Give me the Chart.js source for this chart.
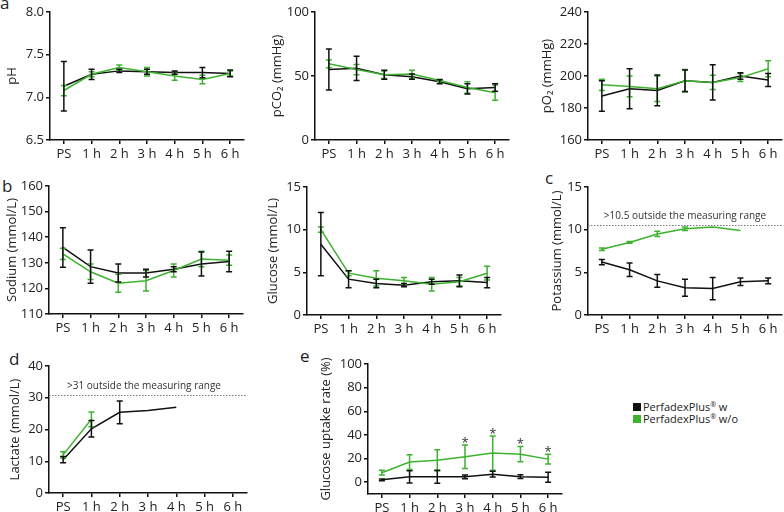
<!DOCTYPE html>
<html>
<head>
<meta charset="utf-8">
<script src="https://cdn.jsdelivr.net/npm/chart.js@4.4.0/dist/chart.umd.min.js"></script>
<style>
body{margin:0;background:#fff;width:784px;height:512px;position:relative;overflow:hidden;font-family:"Open Sans",sans-serif;color:#222}
canvas{position:absolute}
.lbl{position:absolute;font-size:17px;line-height:17px}
#legend{position:absolute;left:633px;top:401px;font-size:11px;line-height:12px;white-space:nowrap}
#legend span{display:inline-block;width:8px;height:8px;margin-right:2px}
#legend sup{font-size:7px;vertical-align:4px;line-height:0}
</style>
</head>
<body>
<div class="lbl" style="left:0;top:-6px">a</div>
<div class="lbl" style="left:2px;top:177px">b</div>
<div class="lbl" style="left:545px;top:169px">c</div>
<div class="lbl" style="left:9px;top:350px">d</div>
<div class="lbl" style="left:300px;top:347px">e</div>
<div id="legend">
  <div><span style="background:#111"></span>PerfadexPlus<sup>®</sup> w</div>
  <div><span style="background:#3db22f"></span>PerfadexPlus<sup>®</sup> w/o</div>
</div>

<canvas id="ph"></canvas>
<canvas id="pco2"></canvas>
<canvas id="po2"></canvas>
<canvas id="sodium"></canvas>
<canvas id="glucose"></canvas>
<canvas id="potassium"></canvas>
<canvas id="lactate"></canvas>
<canvas id="uptake"></canvas>

<script>
// categories
const hours = ['PS', '1 h', '2 h', '3 h', '4 h', '5 h', '6 h'];

// pH
const phW = [7.13, 7.27, 7.31, 7.30, 7.29, 7.29, 7.28];
const phWSd = [0.29, 0.06, 0.02, 0.03, 0.02, 0.06, 0.04];
const phWo = [7.08, 7.27, 7.35, 7.30, 7.25, 7.21, 7.28];
const phWoSd = [0.06, 0.03, 0.03, 0.05, 0.05, 0.05, 0.03];

// pCO2
const pco2W = [55, 56, 51, 49.5, 45.5, 40, 41];
const pco2WSd = [16, 9.5, 3.5, 2, 1.5, 4, 3];
const pco2Wo = [59.5, 55, 51, 51.5, 46.5, 41, 37];
const pco2WoSd = [3, 4, 3, 3, 1, 4.5, 6];

// pO2
const po2W = [187.5, 192, 191, 197, 196, 200, 197.5];
const po2WSd = [9.5, 12.5, 9.6, 6.7, 11, 2, 4];
const po2Wo = [194.5, 193.5, 192, 197, 196, 199, 204.5];
const po2WoSd = [3.5, 6.5, 8, 7, 4.5, 2.5, 5];

// sodium
const naW = [136, 128.5, 126, 126, 127.5, 129.5, 130.5];
const naWSd = [7.7, 6.5, 3.5, 1.5, 1, 4.7, 4];
const naWo = [133.5, 126.5, 122, 123, 127, 131.5, 131];
const naWoSd = [2.2, 3, 3.5, 4, 2.5, 3, 2];

// glucose
const gluW = [8.3, 4.2, 3.7, 3.5, 3.9, 4.0, 3.8];
const gluWSd = [3.7, 1.0, 0.5, 0.2, 0.3, 0.7, 0.6];
const gluWo = [10.0, 4.9, 4.3, 4.0, 3.6, 3.9, 4.9];
const gluWoSd = [0.3, 0.3, 0.9, 0.4, 0.8, 0.5, 0.8];

// potassium
const kW = [6.2, 5.3, 4.0, 3.2, 3.1, 3.9, 4.0];
const kWSd = [0.3, 0.8, 0.75, 1.0, 1.3, 0.45, 0.35];
const kWo = [7.7, 8.5, 9.5, 10.1, 10.3, 9.9, null];
const kWoSd = [0.15, 0.1, 0.3, 0.2, 0, 0, null];

// lactate
const lacW = [10.5, 20.2, 25.4, 26, 27, null, null];
const lacWSd = [1, 2.6, 3.6, 0, 0, null, null];
const lacWo = [12, 23.2, null, null, null, null, null];
const lacWoSd = [1, 2.3, null, null, null, null, null];

// glucose uptake rate
const upW = [2, 4.5, 4.5, 4.5, 6.8, 4.7, 4.2];
const upWSd = [0.7, 5.2, 5.5, 1.5, 2.5, 1.5, 4.2];
const upWo = [8, 17, 18.5, 21.5, 24.6, 23.7, 19.5];
const upWoSd = [2, 6.3, 9, 10, 14.5, 6.5, 4.2];
const upStars = [3, 4, 5, 6];

const BLACK = '#111';
const GREEN = '#3db22f';

Chart.defaults.font.family = '"Open Sans", sans-serif';
Chart.defaults.font.size = 13;
Chart.defaults.color = '#222';
Chart.defaults.animation = false;
Chart.defaults.plugins.legend.display = false;
Chart.defaults.plugins.tooltip.enabled = false;

// error bars + stars
const errorBars = {
  id: 'errorBars',
  afterDatasetsDraw(chart) {
    const ctx = chart.ctx, ys = chart.scales.y;
    chart.data.datasets.forEach((ds, di) => {
      if (!ds.sd) return;
      const meta = chart.getDatasetMeta(di);
      ctx.save();
      ctx.strokeStyle = ds.borderColor;
      ctx.lineWidth = 1.5;
      ds.data.forEach((v, i) => {
        const e = ds.sd[i];
        if (v == null || !e) return;
        const px = meta.data[i].x;
        const t = ys.getPixelForValue(v + e), b = ys.getPixelForValue(v - e);
        ctx.beginPath();
        ctx.moveTo(px, t); ctx.lineTo(px, b);
        ctx.moveTo(px - 3, t); ctx.lineTo(px + 3, t);
        ctx.moveTo(px - 3, b); ctx.lineTo(px + 3, b);
        ctx.stroke();
        if (ds.stars && ds.stars.includes(i)) {
          ctx.fillStyle = '#333';
          ctx.font = '13px "Open Sans"';
          ctx.textAlign = 'center';
          ctx.textBaseline = 'alphabetic';
          ctx.fillText('*', px, t + 2);
        }
      });
      ctx.restore();
    });
  }
};

// dotted limit line with caption
const refLine = {
  id: 'refLine',
  afterDatasetsDraw(chart, args, opts) {
    if (opts.value == null) return;
    const ctx = chart.ctx, a = chart.chartArea;
    const py = Math.round(chart.scales.y.getPixelForValue(opts.value)) + 0.5;
    ctx.save();
    ctx.strokeStyle = '#777';
    ctx.lineWidth = 1;
    ctx.setLineDash([1.5, 1.5]);
    ctx.beginPath();
    ctx.moveTo(a.left, py); ctx.lineTo(a.right, py);
    ctx.stroke();
    ctx.fillStyle = '#333';
    ctx.font = '10px "Open Sans"';
    ctx.textAlign = 'center';
    ctx.textBaseline = 'middle';
    ctx.fillText(opts.text, (a.left + a.right) / 2 + (opts.dx || 0), py - 9);
    ctx.restore();
  }
};

const PAD_TOP = 12, PAD_R = 6, X_H = 26;

function panel(id, box, y, w, wSd, wo, woSd, extra) {
  extra = extra || {};
  const cv = document.getElementById(id);
  const W = box.yW + box.w + PAD_R, H = PAD_TOP + box.h + X_H;
  cv.width = W; cv.height = H;
  cv.style.left = (box.x - box.yW) + 'px';
  cv.style.top = (box.y - PAD_TOP) + 'px';
  cv.style.width = W + 'px'; cv.style.height = H + 'px';

  const axisGrid = { drawOnChartArea: false, tickLength: 4, color: BLACK, lineWidth: 1.5 };
  const yScale = {
    min: y.min, max: y.max,
    ticks: { stepSize: y.step, padding: 2, callback: y.fmt || (v => v) },
    grid: axisGrid,
    border: { color: BLACK, width: 1.5 },
    title: { display: true, text: y.title, padding: { top: 4, bottom: 0 } },
    afterFit(s) { s.width = box.yW; }
  };
  if (y.ticks) yScale.afterBuildTicks = s => { s.ticks = y.ticks.map(v => ({ value: v })); };

  new Chart(cv, {
    type: 'line',
    data: {
      labels: hours,
      datasets: [
        { data: wo, sd: woSd, stars: extra.stars, borderColor: GREEN, borderWidth: 1.5, pointRadius: 0, tension: 0, order: 0 },
        { data: w, sd: wSd, borderColor: BLACK, borderWidth: 1.5, pointRadius: 0, tension: 0, order: 1 }
      ]
    },
    options: {
      responsive: false,
      devicePixelRatio: 1,
      layout: { padding: { top: PAD_TOP, right: PAD_R, left: 0, bottom: 0 } },
      scales: {
        x: {
          offset: true,
          grid: Object.assign({ offset: false }, axisGrid),
          border: { color: BLACK, width: 1.5 },
          ticks: { padding: 2, maxRotation: 0, autoSkip: false },
          afterFit(s) { s.height = X_H; }
        },
        y: yScale
      },
      plugins: { refLine: extra.ref || {} }
    },
    plugins: [errorBars, refLine]
  });
}

panel('ph', { x: 50, y: 12, w: 194, h: 128, yW: 50 },
  { min: 6.5, max: 8, step: 0.5, title: 'pH', fmt: v => v.toFixed(1) },
  phW, phWSd, phWo, phWoSd);
panel('pco2', { x: 315, y: 12, w: 194, h: 128, yW: 50 },
  { min: 0, max: 100, step: 50, title: 'pCO\u2082 (mmHg)' },
  pco2W, pco2WSd, pco2Wo, pco2WoSd);
panel('po2', { x: 588, y: 12, w: 194, h: 128, yW: 53 },
  { min: 160, max: 240, step: 20, title: 'pO\u2082 (mmHg)' },
  po2W, po2WSd, po2Wo, po2WoSd);
panel('sodium', { x: 49, y: 186, w: 194, h: 128, yW: 49 },
  { min: 110, max: 160, step: 10, title: 'Sodium (mmol/L)' },
  naW, naWSd, naWo, naWoSd);
panel('glucose', { x: 307, y: 187, w: 194, h: 128, yW: 46 },
  { min: 0, max: 15, step: 5, title: 'Glucose (mmol/L)' },
  gluW, gluWSd, gluWo, gluWoSd);
panel('potassium', { x: 588, y: 187, w: 194, h: 128, yW: 43 },
  { min: 0, max: 15, step: 5, title: 'Potassium (mmol/L)' },
  kW, kWSd, kWo, kWoSd,
  { ref: { value: 10.5, text: '>10.5 outside the measuring range' } });
panel('lactate', { x: 49, y: 366, w: 198, h: 127, yW: 46 },
  { min: 0, max: 40, step: 10, title: 'Lactate (mmol/L)' },
  lacW, lacWSd, lacWo, lacWoSd,
  { ref: { value: 31, text: '>31 outside the measuring range', dx: -4 } });
panel('uptake', { x: 368, y: 364, w: 194, h: 130, yW: 54 },
  { min: -10, max: 100, title: 'Glucose uptake rate (%)', ticks: [0, 20, 40, 60, 80, 100] },
  upW, upWSd, upWo, upWoSd,
  { stars: upStars });
</script>
</body>
</html>
